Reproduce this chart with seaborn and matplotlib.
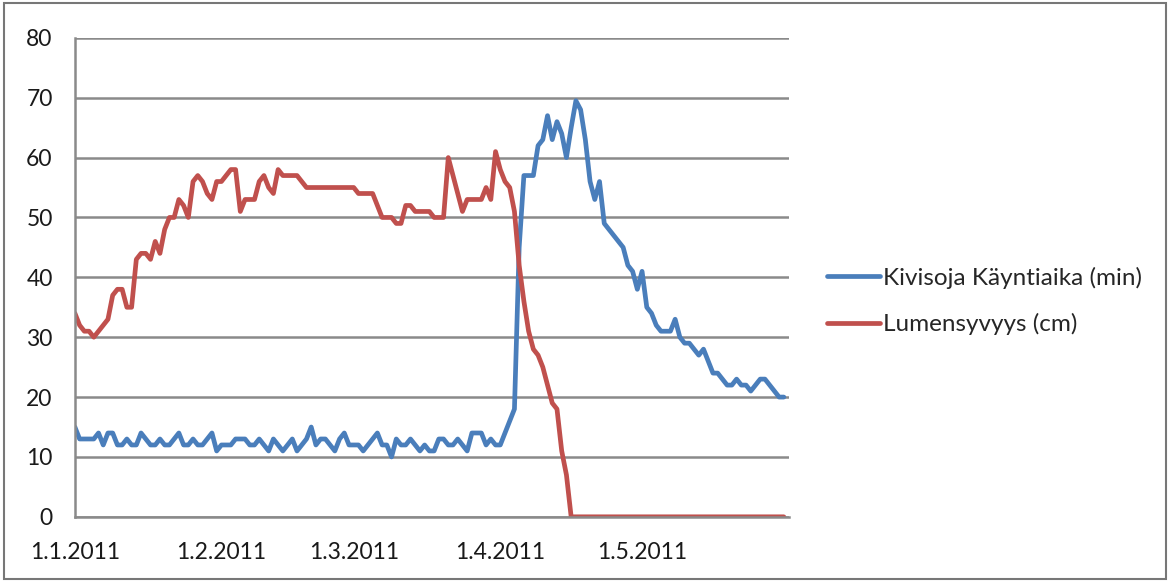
import pandas as pd
import matplotlib.pyplot as plt
import seaborn as sns

# Päivittäiset arvot 1.1.2011 - 31.5.2011
start_date = "2011-01-01"
series_names = ["Kivisoja Käyntiaika (min)", "Lumensyvyys (cm)"]

kaynti = [15, 13, 13, 13, 13, 14, 12, 14, 14, 12, 12, 13, 12, 12, 14, 13, 12, 12, 13, 12,
          12, 13, 14, 12, 12, 13, 12, 12, 13, 14, 11, 12, 12, 12, 13, 13, 13, 12, 12, 13,
          12, 11, 13, 12, 11, 12, 13, 11, 12, 13, 15, 12, 13, 13, 12, 11, 13, 14, 12, 12,
          12, 11, 12, 13, 14, 12, 12, 10, 13, 12, 12, 13, 12, 11, 12, 11, 11, 13, 13, 12,
          12, 13, 12, 11, 14, 14, 14, 12, 13, 12, 12, 14, 16, 18, 45, 57, 57, 57, 62, 63,
          67, 63, 66, 64, 60, 65, 69.5, 68, 63, 56, 53, 56, 49, 48, 47, 46, 45, 42, 41, 38,
          41, 35, 34, 32, 31, 31, 31, 33, 30, 29, 29, 28, 27, 28, 26, 24, 24, 23, 22, 22,
          23, 22, 22, 21, 22, 23, 23, 22, 21, 20, 20]

lumi = [34, 32, 31, 31, 30, 31, 32, 33, 37, 38, 38, 35, 35, 43, 44, 44, 43, 46, 44, 48,
        50, 50, 53, 52, 50, 56, 57, 56, 54, 53, 56, 56, 57, 58, 58, 51, 53, 53, 53, 56,
        57, 55, 54, 58, 57, 57, 57, 57, 56, 55, 55, 55, 55, 55, 55, 55, 55, 55, 55, 55,
        54, 54, 54, 54, 52, 50, 50, 50, 49, 49, 52, 52, 51, 51, 51, 51, 50, 50, 50, 60,
        57, 54, 51, 53, 53, 53, 53, 55, 53, 61, 58, 56, 55, 51, 42, 36, 31, 28, 27, 25,
        22, 19, 18, 11, 7, 0, 0, 0, 0, 0, 0, 0, 0, 0, 0, 0, 0, 0, 0, 0,
        0, 0, 0, 0, 0, 0, 0, 0, 0, 0, 0, 0, 0, 0, 0, 0, 0, 0, 0, 0,
        0, 0, 0, 0, 0, 0, 0, 0, 0, 0, 0]

month_ticks = ["2011-01-01", "2011-02-01", "2011-03-01", "2011-04-01", "2011-05-01"]
month_labels = ["1.1.2011", "1.2.2011", "1.3.2011", "1.4.2011", "1.5.2011"]

dates = pd.date_range(start_date, periods=len(kaynti), freq="D")
df = pd.concat([
    pd.DataFrame({"pvm": dates, "arvo": kaynti, "sarja": series_names[0]}),
    pd.DataFrame({"pvm": dates, "arvo": lumi, "sarja": series_names[1]}),
])

sns.set_style("white")
plt.rcParams["font.family"] = ["Lato", "DejaVu Sans"]

fig = plt.figure(figsize=(11.7, 5.82), dpi=100)
ax = fig.add_axes([0.064, 0.112, 0.61, 0.823])

sns.lineplot(data=df, x="pvm", y="arvo", hue="sarja", palette=["#4A7EBB", "#C0504D"],
             linewidth=3.4, ax=ax)

ax.set_ylim(0, 80)
ax.set_yticks(range(0, 81, 10))
ax.set_xlim(pd.Timestamp("2011-01-01"), pd.Timestamp("2011-06-01"))
ax.set_xticks(pd.to_datetime(month_ticks))
ax.set_xticklabels(month_labels)
ax.set_xlabel("")
ax.set_ylabel("")

ax.yaxis.grid(True, color="#8a8a8a", linewidth=1.8)
ax.set_axisbelow(True)
ax.tick_params(axis="both", labelcolor="#1a1a1a", labelsize=16.5, length=6, width=1.5,
               direction="out", color="#8a8a8a")
ax.tick_params(axis="x", pad=12)
ax.tick_params(axis="y", pad=10)

for side in ["top", "right"]:
    ax.spines[side].set_visible(False)
for side in ["left", "bottom"]:
    ax.spines[side].set_color("#8a8a8a")
    ax.spines[side].set_linewidth(1.8)

leg = ax.legend(loc="center left", bbox_to_anchor=(0.688, 0.483), bbox_transform=fig.transFigure,
                frameon=False, fontsize=17.5, handlelength=2.2, handletextpad=0.1,
                labelspacing=1.0)
for line in leg.get_lines():
    line.set_linewidth(3.4)

# kehys kuvan ympärillä
fig.patches.append(plt.Rectangle((0.003, 0.005), 0.994, 0.99, transform=fig.transFigure,
                                 fill=False, edgecolor="#777777", linewidth=1.5))

plt.savefig("out.png", dpi=100)
